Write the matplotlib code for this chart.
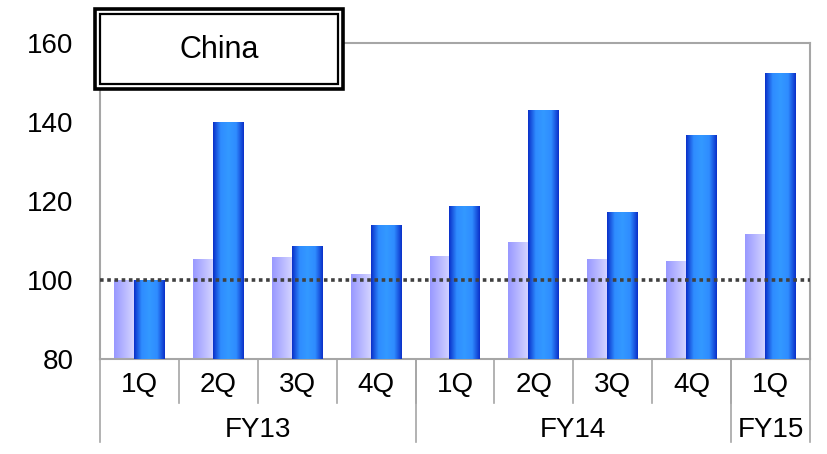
import numpy as np
import matplotlib
matplotlib.use("Agg")
import matplotlib.pyplot as plt
from matplotlib.colors import LinearSegmentedColormap
from matplotlib.patches import Rectangle
from matplotlib.lines import Line2D

plt.rcParams['font.family'] = ['Liberation Sans', 'DejaVu Sans']

quarters = ["1Q", "2Q", "3Q", "4Q", "1Q", "2Q", "3Q", "4Q", "1Q"]
fiscal_years = ["FY13", "FY14", "FY15"]
fy_spans = [4, 4, 1]
series_light = [100.0, 105.1, 105.8, 101.5, 106.0, 109.6, 105.3, 104.6, 111.4]
series_dark = [100.0, 140.0, 108.4, 113.7, 118.7, 142.8, 117.2, 136.5, 152.2]
yticks = [80, 100, 120, 140, 160]
baseline = 100
title = "China"

W, H = 827, 454
fig = plt.figure(figsize=(W / 100, H / 100), dpi=100)
ax_l, ax_r, ax_t, ax_b = 100, 810, 43, 359
ax = fig.add_axes([ax_l / W, 1 - ax_b / H, (ax_r - ax_l) / W, (ax_b - ax_t) / H])

n = len(quarters)

light_cmap = LinearSegmentedColormap.from_list("l", ["#9898FF", "#D4D4FF"])
dark_cmap = LinearSegmentedColormap.from_list("d", ["#0A2FC8", "#2F8CFF", "#3399FF", "#2F8CFF", "#0A2FC8"])
grad = np.linspace(0, 1, 256).reshape(1, -1)

l_off0, l_off1 = -0.323, -0.07
d_off0, d_off1 = -0.07, 0.32
for i in range(n):
    c = i + 0.5
    ax.imshow(grad, cmap=light_cmap, aspect='auto',
              extent=(c + l_off0, c + l_off1, 80, series_light[i]), zorder=2)
    ax.imshow(grad, cmap=dark_cmap, aspect='auto',
              extent=(c + d_off0, c + d_off1, 80, series_dark[i]), zorder=3)
ax.set_xlim(0, n)
ax.set_ylim(80, 160)

ax.axhline(baseline, color="#404040", lw=2.6, ls=(0, (1, 1)), zorder=4)

ax.set_yticks(yticks)
ax.set_yticklabels([str(v) for v in yticks], fontsize=20)
ax.tick_params(axis='y', length=0, pad=19)
ax.set_xticks([])
for s in ax.spines.values():
    s.set_color("#A6A6A6")
    s.set_linewidth(1.5)

# category axis labels
sep_col = "#A6A6A6"
for i in range(n):
    ax.text(i + 0.5, -0.083, quarters[i], transform=ax.get_xaxis_transform(),
            ha='center', va='center', fontsize=20)
for i in range(1, n):
    ax.add_line(Line2D([i, i], [0, -0.14], transform=ax.get_xaxis_transform(),
                       color=sep_col, lw=1.2, clip_on=False))
start = 0
for fy, span in zip(fiscal_years, fy_spans):
    ax.text(start + span / 2, -0.226, fy, transform=ax.get_xaxis_transform(),
            ha='center', va='center', fontsize=20)
    ax.add_line(Line2D([start, start], [0, -0.263], transform=ax.get_xaxis_transform(),
                       color=sep_col, lw=1.2, clip_on=False))
    start += span
ax.add_line(Line2D([start, start], [0, -0.263], transform=ax.get_xaxis_transform(),
                   color=sep_col, lw=1.2, clip_on=False))

# title box
def fig_rect(x0, y0, x1, y1, **kw):
    return Rectangle((x0 / W, 1 - y1 / H), (x1 - x0) / W, (y1 - y0) / H,
                     transform=fig.transFigure, **kw)

fig.patches.append(fig_rect(95, 9, 343, 89, facecolor='white', edgecolor='black', lw=2.6, zorder=5))
fig.patches.append(fig_rect(100, 14, 338, 84, facecolor='none', edgecolor='black', lw=1.6, zorder=6))
fig.text(219 / W, 1 - 50 / H, title, ha='center', va='center', fontsize=22, zorder=7)

fig.savefig("out.png", dpi=100)
